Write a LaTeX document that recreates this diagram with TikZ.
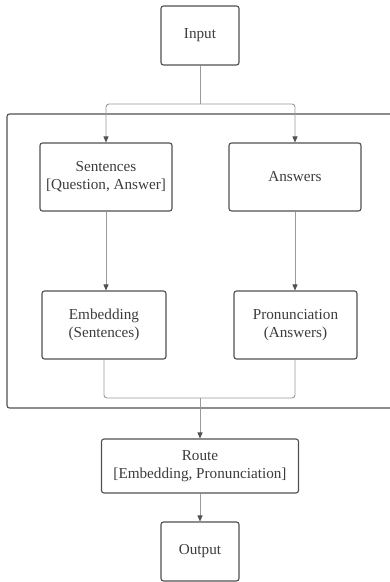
\documentclass[tikz,border=0pt]{standalone}
\usepackage{fontspec}
\setmainfont{Liberation Serif}
\usetikzlibrary{arrows.meta}
\definecolor{boxc}{HTML}{505050}
\definecolor{linec}{HTML}{9A9A9A}
\definecolor{txtc}{HTML}{3C3C3C}
\tikzset{
  box/.style={draw=boxc, line width=1.1pt, rounded corners=2.5pt, inner sep=0pt, align=center, text=txtc, font=\fontsize{15.2}{18}\selectfont},
  conn/.style={draw=linec, line width=0.9pt, rounded corners=3pt},
  arr/.style={conn, -{Triangle[width=5pt,length=6pt,fill=boxc,color=boxc]}},
}
\begin{document}
\begin{tikzpicture}[x=1pt,y=-1pt]
\useasboundingbox (0,0) rectangle (390,582);
% container
\draw[draw=boxc, line width=1.1pt, rounded corners=2.5pt] (395,114) -- (7,114) -- (7,408) -- (395,408);
% nodes
\node[box, minimum width=78pt, minimum height=59pt] (in) at (200,35.5) {Input};
\node[box, minimum width=132pt, minimum height=68pt] (sen) at (106,177) {Sentences\\{[}Question, Answer{]}};
\node[box, minimum width=132pt, minimum height=68pt] (ans) at (295,177) {Answers};
\node[box, minimum width=124pt, minimum height=68pt] (emb) at (104,325) {Embedding\\(Sentences)};
\node[box, minimum width=123pt, minimum height=68pt] (pro) at (295.5,325) {Pronunciation\\(Answers)};
\node[box, minimum width=197pt, minimum height=54pt] (rou) at (200,466) {Route\\{[}Embedding, Pronunciation{]}};
\node[box, minimum width=78pt, minimum height=59pt] (out) at (200,551.5) {Output};
\coordinate (split) at (200,104);
\coordinate (merge) at (200,398);
% connectors
\draw[conn] (in.south) -- (split);
\draw[arr] (split) -| (sen.north);
\draw[arr] (split) -| (ans.north);
\draw[arr] (sen.south) -- (emb.north -| sen.south);
\draw[arr] (ans.south) -- (pro.north -| ans.south);
\draw[conn] (emb.south) |- (merge);
\draw[conn] (pro.south -| ans.south) |- (merge);
\draw[arr] (merge) -- (rou.north);
\draw[arr] (rou.south) -- (out.north);
\end{tikzpicture}
\end{document}
